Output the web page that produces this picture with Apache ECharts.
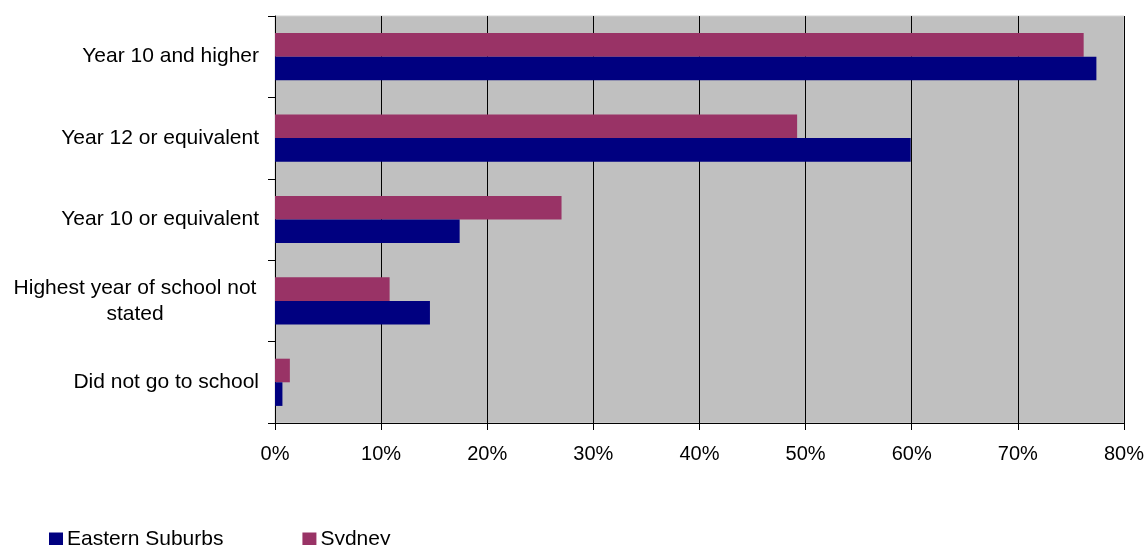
<!DOCTYPE html>
<html>
<head>
<meta charset="utf-8">
<script src="https://cdn.jsdelivr.net/npm/echarts@6/dist/echarts.min.js"></script>
<style>html,body{margin:0;padding:0;background:#fff;}#c{width:1147px;height:545px;}</style>
</head>
<body>
<div id="c"></div>
<script>
// Categories listed bottom to top (ECharts category y-axis runs upward)
const categories = ["Did not go to school", "Highest year of school not\nstated", "Year 10 or equivalent", "Year 12 or equivalent", "Year 10 and higher"];
const easternSuburbs = [0.7, 14.6, 17.4, 59.9, 77.4];
const sydney = [1.4, 10.8, 27.0, 49.2, 76.2];
const xTicks = [0, 10, 20, 30, 40, 50, 60, 70, 80];

const chart = echarts.init(document.getElementById('c'), null, {renderer: 'canvas'});
const font = 'Liberation Sans, Arial, sans-serif';
chart.setOption({
  animation: false,
  textStyle: {fontFamily: font},
  grid: {left: 275, right: 23, top: 16, bottom: 122, show: true, backgroundColor: '#c0c0c0', borderColor: '#d4d4d4', borderWidth: 1},
  legend: {
    left: 49, top: 529, padding: 0, itemWidth: 14, itemHeight: 14, itemGap: 79,
    icon: 'rect',
    textStyle: {fontFamily: font, fontSize: 21, color: '#000', padding: [0, 0, 0, -1]},
    data: ['Eastern Suburbs', 'Sydney']
  },
  xAxis: {
    type: 'value', min: xTicks[0], max: xTicks[xTicks.length - 1], interval: 10,
    axisLine: {show: true, lineStyle: {color: '#000', width: 1}},
    axisTick: {show: true, length: 7, lineStyle: {color: '#000'}},
    splitLine: {show: true, lineStyle: {color: '#000', width: 1}},
    axisLabel: {formatter: v => v + '%', fontSize: 20, color: '#000', margin: 21, fontFamily: font}
  },
  yAxis: {
    type: 'category', data: categories,
    axisLine: {show: true, lineStyle: {color: '#000', width: 1}},
    axisTick: {show: true, length: 7, lineStyle: {color: '#000'}},
    splitLine: {show: false},
    axisLabel: {
      fontSize: 21, color: '#000', margin: 16, fontFamily: font, lineHeight: 26,
      formatter: v => v.indexOf('\n') >= 0 ? '{w|' + v + '}' : v,
      rich: {w: {width: 248, align: 'center', fontSize: 21, lineHeight: 26, fontFamily: font, color: '#000'}}
    }
  },
  series: [
    {name: 'Sydney', type: 'bar', data: sydney, itemStyle: {color: '#993366'}, barGap: '0%', barCategoryGap: '42%'},
    {name: 'Eastern Suburbs', type: 'bar', data: easternSuburbs, itemStyle: {color: '#000080'}, barGap: '0%', barCategoryGap: '42%'}
  ]
});
</script>
</body>
</html>
